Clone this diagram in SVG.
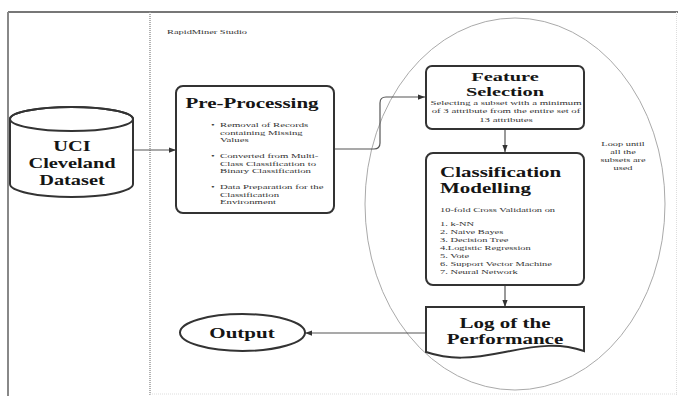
<svg xmlns="http://www.w3.org/2000/svg" width="678" height="396" viewBox="0 0 678 396">
<style>
.t{font-family:"Liberation Serif","Times New Roman",serif;font-weight:bold;fill:#151515;font-size:17.5px}
.s{font-family:"Liberation Serif","Times New Roman",serif;fill:#333;font-size:8.4px}
.m{text-anchor:middle}
.box{fill:#fff;stroke:#333;stroke-width:2}
.con{fill:none;stroke:#555;stroke-width:1.2}
</style>
<defs>
<marker id="ah" viewBox="0 0 8 6" refX="8" refY="3" markerWidth="7" markerHeight="5.5" markerUnits="userSpaceOnUse" orient="auto">
<path d="M0,0 L8,3 L0,6 z" fill="#333"/>
</marker>
</defs>
<rect width="678" height="396" fill="#fff"/>
<g id="frame">
<line x1="8" y1="12" x2="678" y2="12" stroke="#777" stroke-width="2"/>
<line x1="8" y1="12" x2="8" y2="396" stroke="#888" stroke-width="2"/>
<line x1="150" y1="12" x2="150" y2="396" stroke="#999" stroke-width="1.5" stroke-dasharray="1,1"/>
<line x1="676.5" y1="12" x2="676.5" y2="396" stroke="#ddd" stroke-width="1" stroke-dasharray="1,1"/>
<line x1="150" y1="394" x2="678" y2="394" stroke="#ddd" stroke-width="1" stroke-dasharray="1,1"/>
<text class="s" transform="translate(167,34) scale(1.24,0.8)">RapidMiner Studio</text>
</g>
<g id="loop">
<ellipse cx="515" cy="204" rx="150" ry="186" fill="none" stroke="#aaa" stroke-width="1"/>
<text class="s m" transform="translate(623,146) scale(1.23,0.8)">Loop until</text>
<text class="s m" transform="translate(623,154) scale(1.23,0.8)">all the</text>
<text class="s m" transform="translate(623,162) scale(1.23,0.8)">subsets are</text>
<text class="s m" transform="translate(623,170) scale(1.23,0.8)">used</text>
</g>
<g id="connectors">
<line class="con" x1="133" y1="150" x2="176" y2="150" marker-end="url(#ah)"/>
<path class="con" d="M334,149 H374 Q380,149 380,143 V103 Q380,97 386,97 H425" marker-end="url(#ah)"/>
<line class="con" x1="505" y1="129" x2="505" y2="152" marker-end="url(#ah)"/>
<line class="con" x1="505" y1="285" x2="505" y2="307" marker-end="url(#ah)"/>
<line class="con" x1="426" y1="333" x2="305" y2="333" marker-end="url(#ah)"/>
</g>
<g id="dataset">
<path class="box" d="M10,119 V184 A61.5,13 0 0 0 133,184 V119 A61.5,12 0 0 0 10,119 Z"/>
<ellipse cx="71.5" cy="119" rx="61.5" ry="12" fill="none" stroke="#333" stroke-width="2"/>
<text class="t m" style="font-size:17px" transform="translate(72,151) scale(1.2,0.85)">UCI</text>
<text class="t m" style="font-size:17px" transform="translate(72,168) scale(1.2,0.85)">Cleveland</text>
<text class="t m" style="font-size:17px" transform="translate(72,185) scale(1.2,0.85)">Dataset</text>
</g>
<g id="preprocessing">
<rect class="box" x="176" y="86" width="158" height="127" rx="7"/>
<text class="t m" transform="translate(252,108) scale(1.2,0.8)">Pre-Processing</text>
<text class="s" transform="translate(211,127) scale(1.28,0.78)">•</text>
<text class="s" transform="translate(211,158) scale(1.28,0.78)">•</text>
<text class="s" transform="translate(211,189) scale(1.28,0.78)">•</text>
<text class="s" transform="translate(220,127) scale(1.28,0.78)">Removal of Records</text>
<text class="s" transform="translate(220,134.5) scale(1.28,0.78)">containing Missing</text>
<text class="s" transform="translate(220,142) scale(1.28,0.78)">Values</text>
<text class="s" transform="translate(220,158) scale(1.28,0.78)">Converted from Multi-</text>
<text class="s" transform="translate(220,165.5) scale(1.28,0.78)">Class Classification to</text>
<text class="s" transform="translate(220,173) scale(1.28,0.78)">Binary Classification</text>
<text class="s" transform="translate(220,189) scale(1.28,0.78)">Data Preparation for the</text>
<text class="s" transform="translate(220,196.5) scale(1.28,0.78)">Classification</text>
<text class="s" transform="translate(220,204) scale(1.28,0.78)">Environment</text>
</g>
<g id="feature">
<rect class="box" x="426" y="66" width="158" height="63" rx="6"/>
<text class="t m" style="font-size:17px" transform="translate(505,81) scale(1.2,0.76)">Feature</text>
<text class="t m" style="font-size:17px" transform="translate(505,96) scale(1.2,0.76)">Selection</text>
<text class="s m" style="font-size:8.7px" transform="translate(506,105) scale(1.24,0.78)">Selecting a subset with a minimum</text>
<text class="s m" style="font-size:8.7px" transform="translate(506,113) scale(1.24,0.78)">of 3 attribute from the entire set of</text>
<text class="s m" style="font-size:8.7px" transform="translate(506,121.5) scale(1.24,0.78)">13 attributes</text>
</g>
<g id="classification">
<rect class="box" x="426" y="153" width="158" height="132" rx="7"/>
<text class="t" transform="translate(440,177) scale(1.2,0.8)">Classification</text>
<text class="t" transform="translate(440,193) scale(1.2,0.8)">Modelling</text>
<text class="s" transform="translate(440,212) scale(1.24,0.8)">10-fold Cross Validation on</text>
<text class="s" transform="translate(440,226) scale(1.24,0.8)">1. k-NN</text>
<text class="s" transform="translate(440,234) scale(1.24,0.8)">2. Naive Bayes</text>
<text class="s" transform="translate(440,242) scale(1.24,0.8)">3. Decision Tree</text>
<text class="s" transform="translate(440,250) scale(1.24,0.8)">4.Logistic Regression</text>
<text class="s" transform="translate(440,258) scale(1.24,0.8)">5. Vote</text>
<text class="s" transform="translate(440,266) scale(1.24,0.8)">6. Support Vector Machine</text>
<text class="s" transform="translate(440,274) scale(1.24,0.8)">7. Neural Network</text>
</g>
<g id="log">
<path class="box" d="M426,307 H584 V351 C560,343 540,345 505,352 C470,359 450,360 426,352 Z"/>
<text class="t m" transform="translate(505,328) scale(1.2,0.8)">Log of the</text>
<text class="t m" transform="translate(505,344) scale(1.2,0.8)">Performance</text>
</g>
<g id="output">
<ellipse class="box" cx="242.5" cy="332.5" rx="62.5" ry="18.5"/>
<text class="t m" transform="translate(242,338) scale(1.2,0.8)">Output</text>
</g>
</svg>
